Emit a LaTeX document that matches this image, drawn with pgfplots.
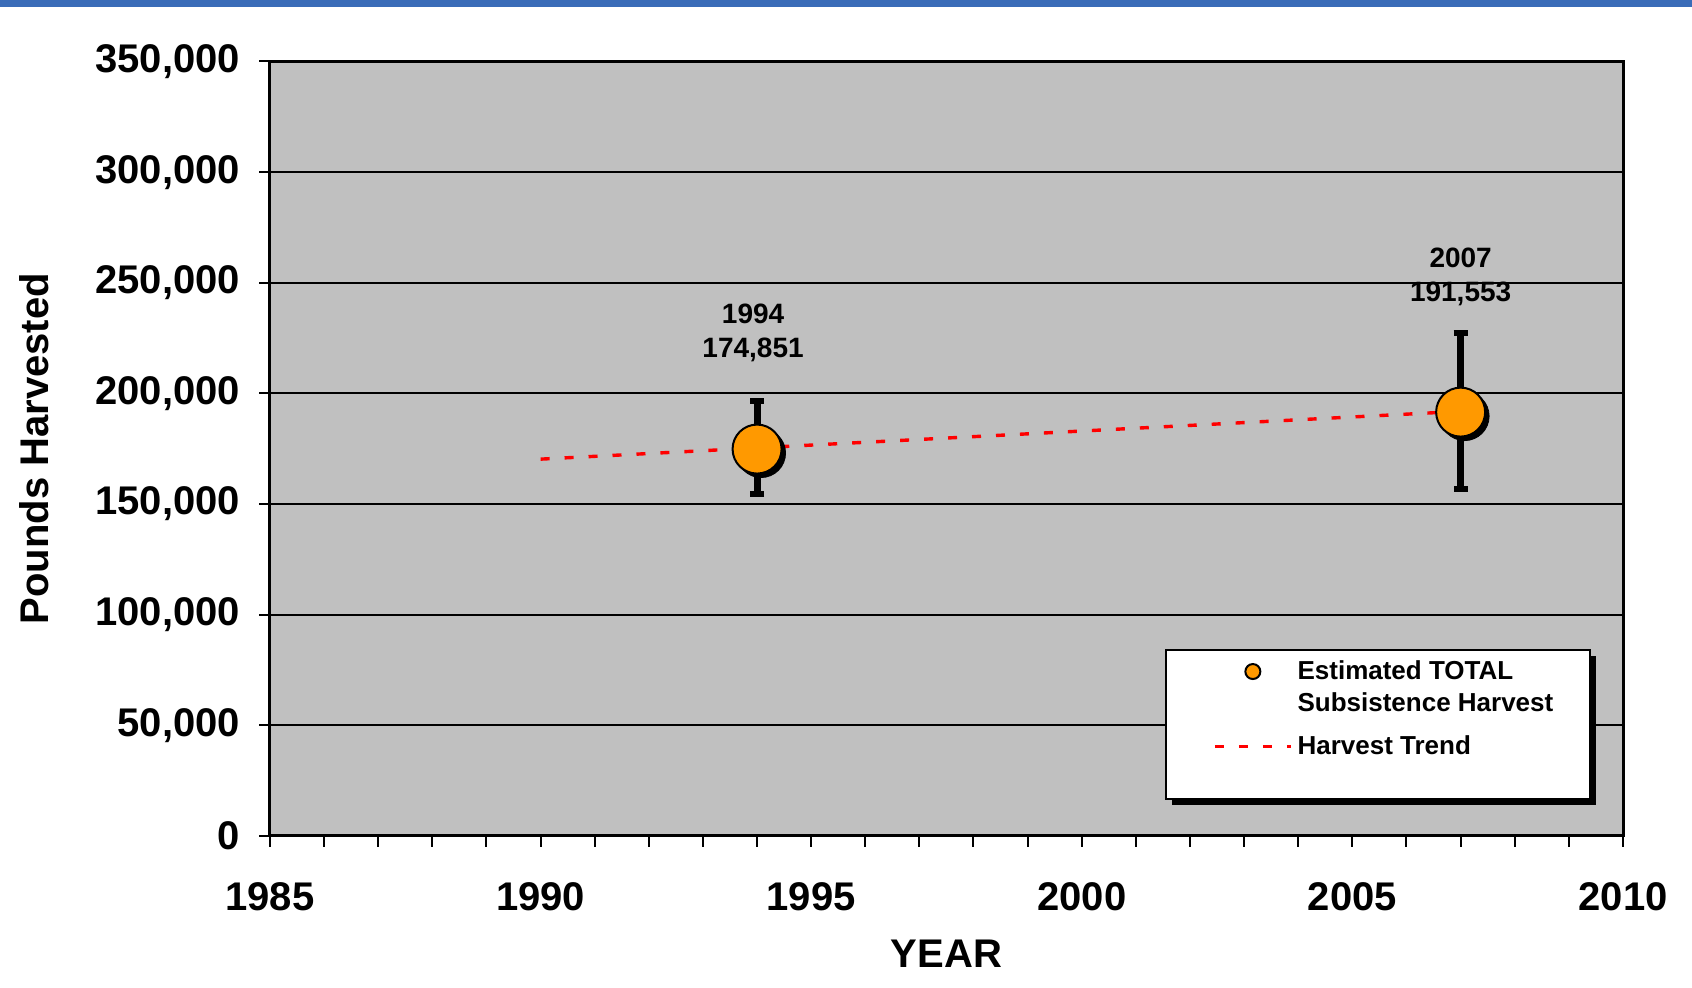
\documentclass[border=0pt]{standalone}
\usepackage{fontspec}
\setmainfont{Liberation Sans}
\usepackage{pgfplots}
\pgfplotsset{compat=1.18}
\definecolor{bgray}{HTML}{C0C0C0}
\definecolor{morange}{HTML}{FF9900}
\definecolor{topblue}{HTML}{3A6CB8}
\begin{document}
\begin{tikzpicture}
\path[use as bounding box] (-135pt,-76pt) rectangle (711pt,418pt);
\fill[topblue] (-135pt,414.5pt) rectangle (711pt,418pt);
\begin{axis}[
  at={(0pt,0pt)}, anchor=south west,
  scale only axis, width=676.5pt, height=387.25pt,
  xmin=1985, xmax=2010, ymin=0, ymax=350000,
  xtick={1985,1990,...,2010},
  minor xtick={1986,...,2009},
  ytick={0,50000,...,350000},
  tick align=outside,
  xtick pos=left, ytick pos=left,
  major tick length=5.5pt, minor tick length=5.5pt,
  every tick/.style={black, line width=1pt},
  minor tick style={black, line width=1pt},
  axis line style={line width=1.5pt},
  axis background/.style={fill=bgray},
  ymajorgrids, major grid style={black, line width=1pt},
  scaled y ticks=false,
  /pgf/number format/assume math mode=true,
  ticklabel style={font=\fontsize{20}{24}\selectfont\bfseries},
  yticklabel style={xshift=-6pt, /pgf/number format/.cd, fixed, 1000 sep={,}},
  xticklabel style={yshift=-14.5pt, /pgf/number format/.cd, 1000 sep={}},
  xlabel={YEAR}, ylabel={Pounds Harvested},
  every axis x label/.style={at={(axis description cs:0.5,-0.1524)}, anchor=center,
    font=\fontsize{20}{24}\selectfont\bfseries},
  every axis y label/.style={at={(axis description cs:-0.174,0.5)}, anchor=center, rotate=90,
    font=\fontsize{20}{24}\selectfont\bfseries},
  legend image code/.code={\draw[mark repeat=2,mark phase=2,#1] plot coordinates {(0pt,0pt) (19pt,0pt) (38pt,0pt)};},
  legend style={
    at={(0.6968,0.2272)}, anchor=north west,
    draw=none, fill=none,
    font=\fontsize{13}{16.2}\selectfont\bfseries,
    nodes={inner sep=0pt},
    cells={align=left},
    inner sep=0pt, row sep=10.6pt, column sep=2.5pt,
  },
  legend cell align=left,
]
% error bars (behind markers)
\addplot[draw=none, mark=none, forget plot,
  error bars/.cd, y dir=both, y explicit,
  error bar style={draw=black, line width=3.5pt},
  error mark options={draw=black, line width=3pt, mark size=3.5pt, rotate=90}]
  coordinates {
  (1994,174851) += (0,21700) -= (0,20500)
  (2007,191553) += (0,35750) -= (0,34740)
};
% marker shadow
\addplot[only marks, mark=*, mark size=12.25pt, draw=black, fill=black, forget plot,
  mark options={xshift=2pt, yshift=-2pt}]
  coordinates {(1994,174851) (2007,191553)};
% markers
\addplot[only marks, mark=*, mark size=12.25pt, draw=black, fill=morange, line width=1pt, forget plot]
  coordinates {(1994,174851) (2007,191553)};
% trend
\addplot[red, line width=1.7pt, dash pattern=on 4.5pt off 7.5pt, forget plot]
  coordinates {(1990,170300) (2007,191900)};
% legend box and its shadow
\fill[black] (rel axis cs:0.6667,0.0405) rectangle (rel axis cs:0.9800,0.2329);
\filldraw[fill=white, draw=black, line width=1pt] (rel axis cs:0.6622,0.0483) rectangle (rel axis cs:0.9756,0.2407);
\addlegendimage{only marks, mark=*, mark size=3.75pt, draw=black, fill=morange, line width=1pt, mark options={yshift=8pt}}
\addlegendentry{Estimated TOTAL\\Subsistence Harvest}
\addlegendimage{red, line width=1.7pt, dash pattern=on 4.5pt off 7.5pt}
\addlegendentry{Harvest Trend}
\node[font=\fontsize{14}{16}\selectfont\bfseries, xshift=-2pt] at (axis cs:1994,235900) {1994};
\node[font=\fontsize{14}{16}\selectfont\bfseries, xshift=-2pt] at (axis cs:1994,219850) {174,851};
\node[font=\fontsize{14}{16}\selectfont\bfseries] at (axis cs:2007,261300) {2007};
\node[font=\fontsize{14}{16}\selectfont\bfseries] at (axis cs:2007,245200) {191,553};
\end{axis}
\end{tikzpicture}
\end{document}
